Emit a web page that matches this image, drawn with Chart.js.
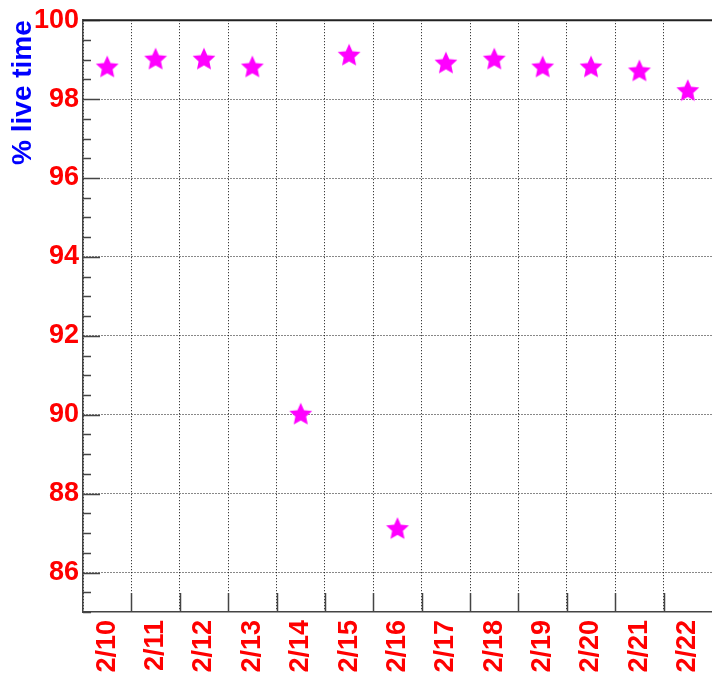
<!DOCTYPE html>
<html>
<head>
<meta charset="utf-8">
<script src="https://cdn.jsdelivr.net/npm/chart.js@4.4.1/dist/chart.umd.min.js"></script>
<style>
  body { margin: 0; background: #fff; }
  #wrap { width: 712px; height: 676px; position: relative; }
</style>
</head>
<body>
<div id="wrap"><canvas id="liveChart"></canvas></div>
<script>
// run days and % live time per day
const days = ['2/10', '2/11', '2/12', '2/13', '2/14', '2/15', '2/16', '2/17', '2/18', '2/19', '2/20', '2/21', '2/22'];
const liveTime = [98.8, 99.0, 99.0, 98.8, 90.0, 99.1, 87.1, 98.9, 99.0, 98.8, 98.8, 98.7, 98.2];
const yTicks = [86, 88, 90, 92, 94, 96, 98, 100];
const yMin = 85;
const yMax = 100;

const labelFont = { family: 'Liberation Sans', weight: 'bold', size: 27 };

function makeStar(r, color) {
    const c = document.createElement('canvas');
    const size = Math.ceil(r * 2) + 2;
    c.width = size;
    c.height = size;
    const g = c.getContext('2d');
    g.fillStyle = color;
    g.beginPath();
    for (let i = 0; i < 10; i++) {
        const rad = i % 2 === 0 ? r : r * 0.47;
        const a = -Math.PI / 2 + i * Math.PI / 5;
        const px = size / 2 + rad * Math.cos(a);
        const py = size / 2 + rad * Math.sin(a);
        if (i === 0) g.moveTo(px, py); else g.lineTo(px, py);
    }
    g.closePath();
    g.fill();
    return c;
}
const star = makeStar(12, '#ff00ff');

// inward major/minor ticks + top frame line
const tickMarks = {
    id: 'tickMarks',
    afterDraw(chart) {
        const { ctx, chartArea, scales: { x, y } } = chart;
        ctx.save();
        ctx.strokeStyle = '#444';
        ctx.lineWidth = 1.5;
        ctx.beginPath();
        for (let v = yMin; v <= yMax; v += 0.5) {
            const py = Math.round(y.getPixelForValue(v)) + 0.5;
            const len = v % 2 === 0 ? 17 : 8;
            ctx.moveTo(chartArea.left, py);
            ctx.lineTo(chartArea.left + len, py);
        }
        for (let i = 0; i < days.length - 1; i++) {
            const px = Math.round((x.getPixelForValue(i) + x.getPixelForValue(i + 1)) / 2) + 0.5;
            ctx.moveTo(px, chartArea.bottom);
            ctx.lineTo(px, chartArea.bottom - 19);
        }
        ctx.stroke();
        ctx.strokeStyle = '#222';
        ctx.lineWidth = 2;
        ctx.beginPath();
        ctx.moveTo(chartArea.left, chartArea.top);
        ctx.lineTo(chartArea.right, chartArea.top);
        ctx.stroke();
        ctx.restore();
    }
};

const chart = new Chart(document.getElementById('liveChart'), {
    type: 'line',
    data: {
        labels: days,
        datasets: [{
            data: liveTime,
            showLine: false,
            pointStyle: star,
            pointRadius: 12,
            pointHoverRadius: 12,
            backgroundColor: '#ff00ff',
            borderColor: '#ff00ff'
        }]
    },
    options: {
        responsive: true,
        maintainAspectRatio: false,
        animation: false,
        layout: { autoPadding: false, padding: { top: 18, right: 0, bottom: 0, left: 0 } },
        plugins: {
            legend: { display: false },
            tooltip: { enabled: false }
        },
        scales: {
            x: {
                type: 'category',
                offset: true,
                afterFit: s => {
                    s.height = 64;
                    s.paddingLeft = 0;
                    s.paddingRight = 0;
                },
                grid: { offset: true, color: '#111', lineWidth: 1, drawTicks: false },
                border: { display: true, color: '#444', width: 1.5, dash: [1, 2] },
                ticks: {
                    color: '#ff0000',
                    font: labelFont,
                    minRotation: 90,
                    maxRotation: 90,
                    autoSkip: false,
                    padding: 8
                }
            },
            y: {
                min: yMin,
                max: yMax,
                afterBuildTicks: s => { s.ticks = yTicks.map(v => ({ value: v })); },
                afterFit: s => { s.width = 83; },
                grid: { color: '#111', lineWidth: 1, drawTicks: false },
                border: { display: true, color: '#444', width: 1.5, dash: [1, 2] },
                ticks: { color: '#ff0000', font: labelFont, padding: 4 },
                title: {
                    display: true,
                    text: '% live time',
                    color: '#0000ff',
                    align: 'end',
                    font: { family: 'Liberation Sans', weight: 'bold', size: 28 },
                    padding: { top: 6, bottom: 0 }
                }
            }
        }
    },
    plugins: [tickMarks]
});
</script>
</body>
</html>
